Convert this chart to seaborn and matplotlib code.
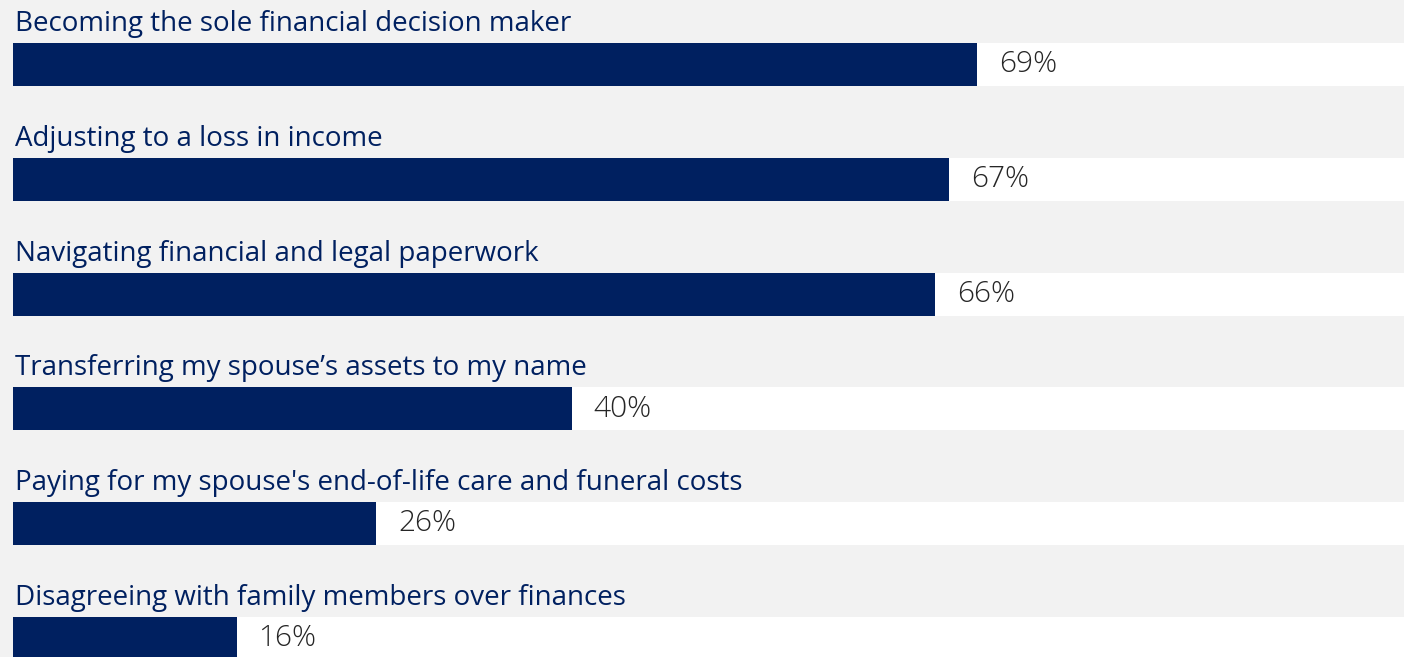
import matplotlib
matplotlib.use("Agg")
import matplotlib.pyplot as plt
import seaborn as sns
import pandas as pd

categories = [
    "Becoming the sole financial decision maker",
    "Adjusting to a loss in income",
    "Navigating financial and legal paperwork",
    "Transferring my spouse\u2019s assets to my name",
    "Paying for my spouse's end-of-life care and funeral costs",
    "Disagreeing with family members over finances",
]
values = [69, 67, 66, 40, 26, 16]
value_labels = ["69%", "67%", "66%", "40%", "26%", "16%"]

NAVY = "#002060"
BG = "#f2f2f2"

sns.set_style("white")
plt.rcParams["font.family"] = ["Open Sans", "DejaVu Sans"]

W, H = 1404, 657
fig = plt.figure(figsize=(W / 100, H / 100), dpi=100, facecolor=BG)
left_px = 13
ax = fig.add_axes([left_px / W, 0, 1 - left_px / W, 1])
ax.set_facecolor(BG)

df = pd.DataFrame({"item": categories, "pct": values, "full": [100] * len(values)})

row_px = 114.8
bar_px = 43
bw = bar_px / row_px

# white track behind each bar
sns.barplot(data=df, x="full", y="item", color="white", width=bw,
            saturation=1, ax=ax, orient="h")
sns.barplot(data=df, x="pct", y="item", color=NAVY, width=bw,
            saturation=1, ax=ax, orient="h")
for p in ax.patches:
    p.set_edgecolor("none")
    p.set_linewidth(0)

px_per_unit = 13.97
ax.set_xlim(0, (W - left_px) / px_per_unit)
top = -64.5 / row_px
ax.set_ylim(top + H / row_px, top)

for i, (cat, v, lab) in enumerate(zip(categories, values, value_labels)):
    ax.text(0.15, i - bw / 2 - 12 / row_px, cat, color=NAVY, fontsize=20,
            ha="left", va="baseline")
    ax.text(v + 22 / px_per_unit, i, lab, color="#262626", fontsize=21.5,
            fontweight="light", ha="left", va="center")

ax.set_axis_off()
fig.savefig("out.png", dpi=100, facecolor=BG)
